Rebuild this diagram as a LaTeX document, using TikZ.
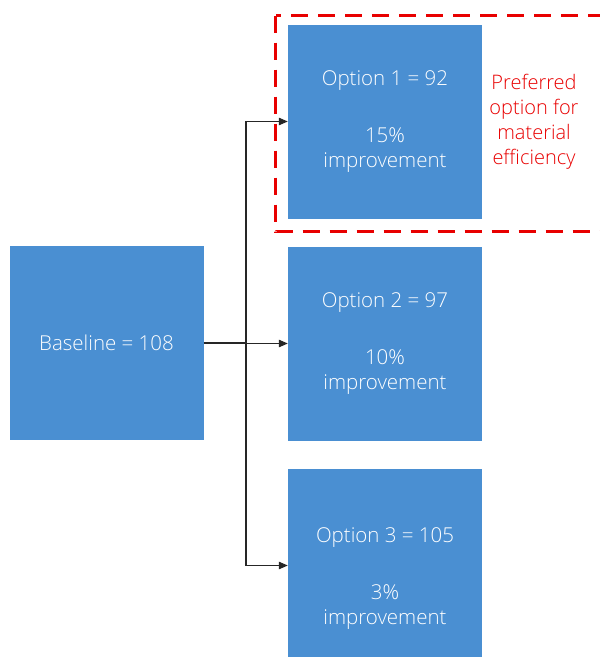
\documentclass[tikz,border=0pt]{standalone}
\usepackage{fontspec}
\setmainfont{Open Sans}[UprightFont=* Light]
\usepackage{xcolor}
\usetikzlibrary{positioning,arrows.meta}

\definecolor{boxblue}{RGB}{74,143,210}
\definecolor{notered}{RGB}{232,0,0}

\begin{document}
\begin{tikzpicture}[x=1pt,y=-1pt,on grid,node distance=222pt and 278.5pt,
	font=\fontsize{20.5}{25}\selectfont,
	optbox/.style={fill=boxblue,draw=none,minimum size=194pt,inner sep=0pt,text=white,align=center},
	link/.style={draw=black!85,line width=1.1pt},
	tip/.style={-{Triangle[length=9pt,width=7.5pt]}}]
	\useasboundingbox (0,0) rectangle (600,657);
	\node[optbox] (base) at (106.5,343) {Baseline = 108};
	\node[optbox] (opt2) [right=of base,yshift=-0.5pt] {Option 2 = 97\\[32pt]10\%\\improvement};
	\node[optbox] (opt1) [above=of opt2] {Option 1 = 92\\[32pt]15\%\\improvement};
	\node[optbox,minimum height=220pt] (opt3) [below=235pt of opt2] {Option 3 = 105\\[32pt]3\%\\improvement};
	\node[text=notered,align=center,font=\fontsize{20}{25}\selectfont] (note) at (534,122) {Preferred\\option for\\material\\efficiency};
	% dashed frame round the preferred option
	\draw[notered,line width=3.5pt,dash pattern=on 17pt off 10pt] (275.5,15.5) rectangle (602,231.5);
	% connectors
	\coordinate (split) at (246,343);
	\draw[link] (base) -- (split);
	\draw[link,tip] (split) |- (opt1);
	\draw[link,tip] (split) |- (opt2);
	\draw[link,tip] (split) |- ([yshift=13pt]opt3.west);
\end{tikzpicture}
\end{document}
